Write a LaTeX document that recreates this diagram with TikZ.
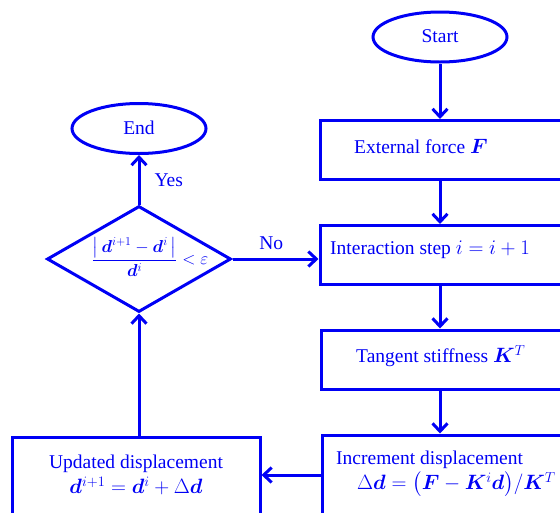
\documentclass[tikz,border=0pt]{standalone}
\usepackage{amsmath}
\usepackage{bm}
\usepackage{fontspec}
\setmainfont{Liberation Serif}
\usetikzlibrary{shapes.geometric,arrows.meta}
\definecolor{fb}{RGB}{0,0,245}
\tikzset{
  line/.style={draw=fb, line width=3pt},
  arr/.style={line, -{Straight Barb[length=8pt,width=15pt,line width=3pt]}},
  term/.style={ellipse, line, minimum width=134pt, minimum height=50pt, inner sep=0pt},
  box/.style={rectangle, line, inner sep=0pt},
  decision/.style={diamond, line, minimum width=184pt, minimum height=106pt, inner sep=0pt},
  txt/.style={text=fb, inner sep=0pt, font=\fontsize{19.5}{23.5}\selectfont},
  smalltxt/.style={text=fb, inner sep=0pt, font=\fontsize{17}{21}\selectfont},
}
\begin{document}
\begin{tikzpicture}[x=1pt,y=-1pt]
\useasboundingbox (0,0) rectangle (560,512);
\clip (0,0) rectangle (560,512);
% terminals
\node[term] (start) at (440,37) {};
\node[txt] (starttxt) at (440,36) {Start};
\node[term] (end) at (139,128.5) {};
\node[txt] (endtxt) at (139,128) {End};
% right column boxes
\node[box, minimum width=300pt, minimum height=59pt] (ext) at (470,150) {};
\node[txt, anchor=west] (exttxt) at (354,146) {External force $\bm{F}$};
\node[box, minimum width=300pt, minimum height=59pt] (inter) at (470,255) {};
\node[txt, anchor=west] (intertxt) at (330,250) {Interaction step $i=i+1$};
\node[box, minimum width=300pt, minimum height=59pt] (tan) at (471,359.5) {};
\node[txt, anchor=west] (tantxt) at (356,356) {Tangent stiffness $\bm{K}^{T}$};
\node[box, minimum width=300pt, minimum height=120pt] (inc) at (472,495) {};
\node[txt, anchor=west, align=left] (inctxt) at (336,474)
  {Increment displacement\\[1.5pt]\hspace*{21pt}$\Delta\bm{d}=\bigl(\bm{F}-\bm{K}^{i}\bm{d}\bigr)/\bm{K}^{T}$};
% left bottom box
\node[box, minimum width=248pt, minimum height=120pt] (upd) at (136,497) {};
\node[txt, align=center] (updtxt) at (136,475)
  {Updated displacement\\[1.5pt]$\bm{d}^{i+1}=\bm{d}^{i}+\Delta\bm{d}$};
% decision
\node[decision] (dec) at (139,259) {};
\node[smalltxt] (dectxt) at (150,257) {$\dfrac{\bigl|\,\bm{d}^{i+1}-\bm{d}^{i}\,\bigr|}{\bm{d}^{i}}<\varepsilon$};
% connectors
\draw[arr] (start) -- (ext.north -| start);
\draw[arr] (ext.south -| start) -- (inter.north -| start);
\draw[arr] (inter.south -| start) -- (tan.north -| start);
\draw[arr] (tan.south -| start) -- (inc.north -| start);
\coordinate (incl) at (inc.west |- 0,475);
\draw[arr] (incl) -- (upd.east |- incl);
\draw[arr] (upd.north -| dec.south) -- (dec.south);
\draw[arr] (dec.east) -- node[txt, above=8pt, pos=0.45] (no) {No} (inter.west |- dec.east);
\draw[arr] (dec.north) -- node[txt, right=14pt] (yes) {Yes} (end.south);
\end{tikzpicture}
\end{document}
